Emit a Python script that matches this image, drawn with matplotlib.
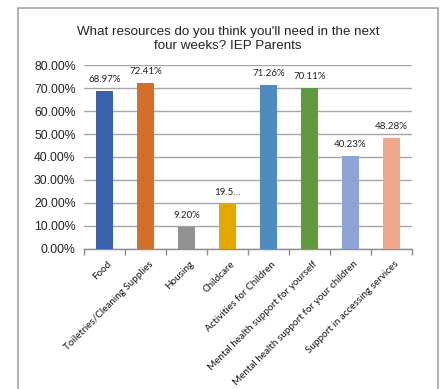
import matplotlib
matplotlib.use("Agg")
import matplotlib.pyplot as plt
from matplotlib.patches import Rectangle
from matplotlib.ticker import MultipleLocator, FuncFormatter

categories = ["Food", "Toiletries/Cleaning Supplies", "Housing", "Childcare",
              "Activities for Children", "Mental health support for yourself",
              "Mental health support for your children", "Support in accessing services"]
values = [68.97, 72.41, 9.20, 19.54, 71.26, 70.11, 40.23, 48.28]
value_labels = ["68.97%", "72.41%", "9.20%", "19.5\u2026", "71.26%", "70.11%", "40.23%", "48.28%"]
colors = ["#3A62AC", "#D46E2A", "#929292", "#E1A800", "#4E8BBF", "#619A3E", "#8FA4D6", "#F0A88A"]
title = "What resources do you think you'll need in the next\nfour weeks? IEP Parents"

W, H = 445, 389
fig = plt.figure(figsize=(W / 100, H / 100), dpi=100)
fig.patch.set_facecolor("white")

# outer chart border
fig.patches.append(Rectangle((18 / W, -0.05), (438 - 18) / W, 1.05 - 8 / H,
                             transform=fig.transFigure, fill=False,
                             edgecolor="#A6A6A6", linewidth=1.2))

ax = fig.add_axes([84 / W, 1 - 248.5 / H, (412 - 84) / W, (248.5 - 65.4) / H])
x = list(range(len(categories)))
ax.bar(x, values, width=0.42, color=colors, zorder=3)
ax.set_xlim(-0.5, len(categories) - 0.5)
ax.set_ylim(0, 80)
ax.yaxis.set_major_locator(MultipleLocator(10))
ax.yaxis.set_major_formatter(FuncFormatter(lambda v, p: f"{v:.2f}%"))
ax.grid(axis="y", color="#A6A6A6", linewidth=1.0, zorder=0)
for s in ["top", "right", "left"]:
    ax.spines[s].set_visible(False)
ax.spines["bottom"].set_color("#8C8C8C")
ax.spines["bottom"].set_linewidth(1.0)
ax.tick_params(axis="y", length=0, labelsize=8.8, pad=6, labelcolor="#222222")
for lab in ax.get_yticklabels():
    lab.set_fontfamily("Liberation Sans")

# category boundary ticks
ax.set_xticks([i - 0.5 for i in range(len(categories) + 1)], minor=False)
ax.set_xticklabels([])
ax.tick_params(axis="x", which="major", length=4, color="#8C8C8C", width=1.0)

for i, (v, lab) in enumerate(zip(values, value_labels)):
    ax.annotate(lab, (i, v), xytext=(0, 5), textcoords="offset points",
                ha="center", va="bottom", fontsize=7, family="Lato", color="#222222")

for i, c in enumerate(categories):
    ax.annotate(c, (i, 0), xytext=(2, -8), textcoords="offset points",
                ha="right", va="top", rotation=45, rotation_mode="anchor",
                fontsize=7.1, family="Lato", color="#111111", annotation_clip=False)

fig.text(228 / W, 1 - 39 / H, title, ha="center", va="center", fontsize=9.6,
         family="Liberation Sans", color="#222222", linespacing=1.3)

fig.savefig("out.png", dpi=100, facecolor="white")
